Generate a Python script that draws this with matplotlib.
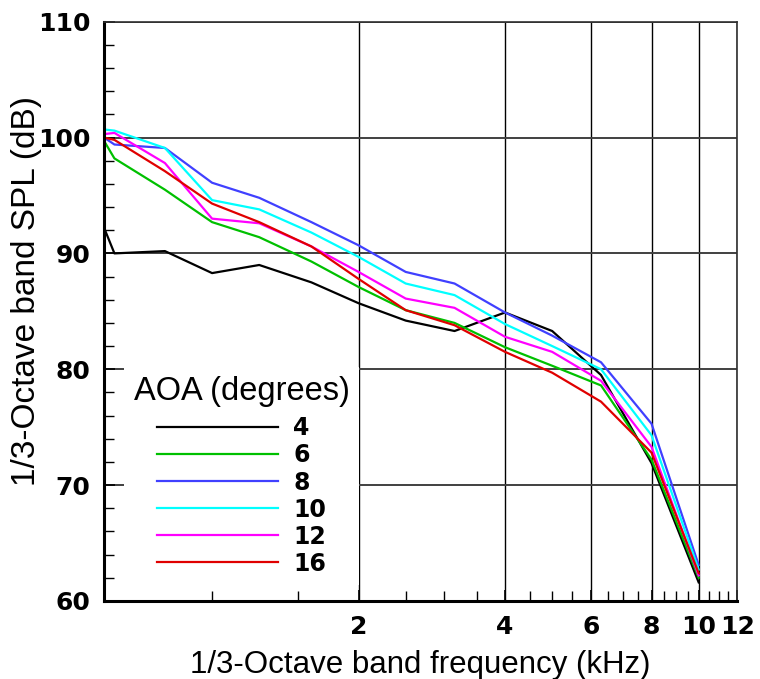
import numpy as np
import matplotlib
matplotlib.use('Agg')
import matplotlib.pyplot as plt
from matplotlib.ticker import FixedLocator, NullFormatter

# 1/3-octave band centre frequencies (kHz)
freq = [0.6, 0.63, 0.8, 1.0, 1.25, 1.6, 2.0, 2.5, 3.15, 4.0, 5.0, 6.3, 8.0, 10.0]

# SPL (dB) per angle of attack
spl_4 = [92.2, 90.0, 90.2, 88.3, 89.0, 87.5, 85.7, 84.2, 83.3, 84.9, 83.3, 79.5, 71.9, 61.6]
spl_6 = [99.7, 98.2, 95.5, 92.7, 91.4, 89.3, 87.1, 85.1, 84.0, 81.9, 80.3, 78.6, 72.2, 62.0]
spl_8 = [100.0, 99.4, 99.1, 96.1, 94.8, 92.7, 90.7, 88.4, 87.4, 84.9, 82.9, 80.6, 75.3, 63.1]
spl_10 = [100.7, 100.6, 99.1, 94.6, 93.8, 91.8, 89.7, 87.4, 86.4, 83.9, 82.0, 80.0, 74.3, 62.7]
spl_12 = [100.3, 100.4, 97.8, 93.0, 92.6, 90.6, 88.4, 86.1, 85.3, 82.8, 81.5, 79.0, 73.3, 62.2]
spl_16 = [100.0, 99.8, 97.1, 94.3, 92.7, 90.6, 87.8, 85.1, 83.8, 81.5, 79.7, 77.2, 72.8, 62.4]

aoa_labels = ['4', '6', '8', '10', '12', '16']
colors = ['black', '#00c000', '#4040ff', '#00ffff', '#ff00ff', '#e00000']
series = [spl_4, spl_6, spl_8, spl_10, spl_12, spl_16]

x_major = [2, 4, 6, 8, 10, 12]
x_minor = [1, 1.5, 2.5, 3, 3.5, 4.5, 5, 5.5, 6.5, 7, 7.5, 8.5, 9, 9.5, 10.5, 11, 11.5]
y_major = [60, 70, 80, 90, 100, 110]

fig = plt.figure(figsize=(7.6, 6.79), dpi=100)
ax = fig.add_axes([0.137, 0.115, 0.833, 0.853])

for s, c, lab in zip(series, colors, aoa_labels):
    ax.plot(freq, s, color=c, lw=1.6, label=lab)

ax.set_xscale('log')
ax.set_xlim(0.6, 12)
ax.set_ylim(60, 110)
ax.xaxis.set_major_locator(FixedLocator(x_major))
ax.xaxis.set_major_formatter(plt.FixedFormatter([str(v) for v in x_major]))
ax.xaxis.set_minor_locator(FixedLocator(x_minor))
ax.xaxis.set_minor_formatter(NullFormatter())
ax.set_yticks(y_major)
ax.yaxis.set_minor_locator(FixedLocator(np.arange(60, 111, 2)))

ax.grid(which='major', axis='y', color='#404040', lw=1.4)
ax.grid(which='major', axis='x', color='black', lw=1.0)

ax.tick_params(which='both', direction='in', top=False, right=False)
ax.tick_params(which='major', length=8, width=1.2, pad=10)
ax.tick_params(which='minor', length=7, width=1.0)
for lbl in ax.get_xticklabels() + ax.get_yticklabels():
    lbl.set_fontfamily('DejaVu Sans')
    lbl.set_fontweight('bold')
    lbl.set_fontsize(18)

ax.spines['left'].set_linewidth(2.2)
ax.spines['bottom'].set_linewidth(2.2)
ax.spines['top'].set_linewidth(1.2)
ax.spines['right'].set_linewidth(1.2)
ax.spines['top'].set_color('#303030')
ax.spines['right'].set_color('#303030')

ax.set_xlabel('1/3-Octave band frequency (kHz)', fontsize=22.5, family='Liberation Sans', labelpad=8)
ax.set_ylabel('1/3-Octave band SPL (dB)', fontsize=24, family='Liberation Sans')
ax.yaxis.set_label_coords(-0.098, 0.535)

leg = ax.legend(loc='upper left', bbox_to_anchor=(0.032, 0.404), title='AOA (degrees)',
                prop={'family': 'DejaVu Sans', 'weight': 'bold', 'size': 17},
                title_fontproperties={'family': 'Liberation Sans', 'size': 23.5},
                frameon=True, fancybox=False, framealpha=1, edgecolor='white',
                handlelength=5.1, handletextpad=0.65, labelspacing=0.13,
                borderpad=0.4, borderaxespad=0.0)
leg.get_frame().set_linewidth(0)
# a bit more room between the title and the entries
leg._legend_box.sep = 6.5

fig.savefig('out.png', dpi=100)
